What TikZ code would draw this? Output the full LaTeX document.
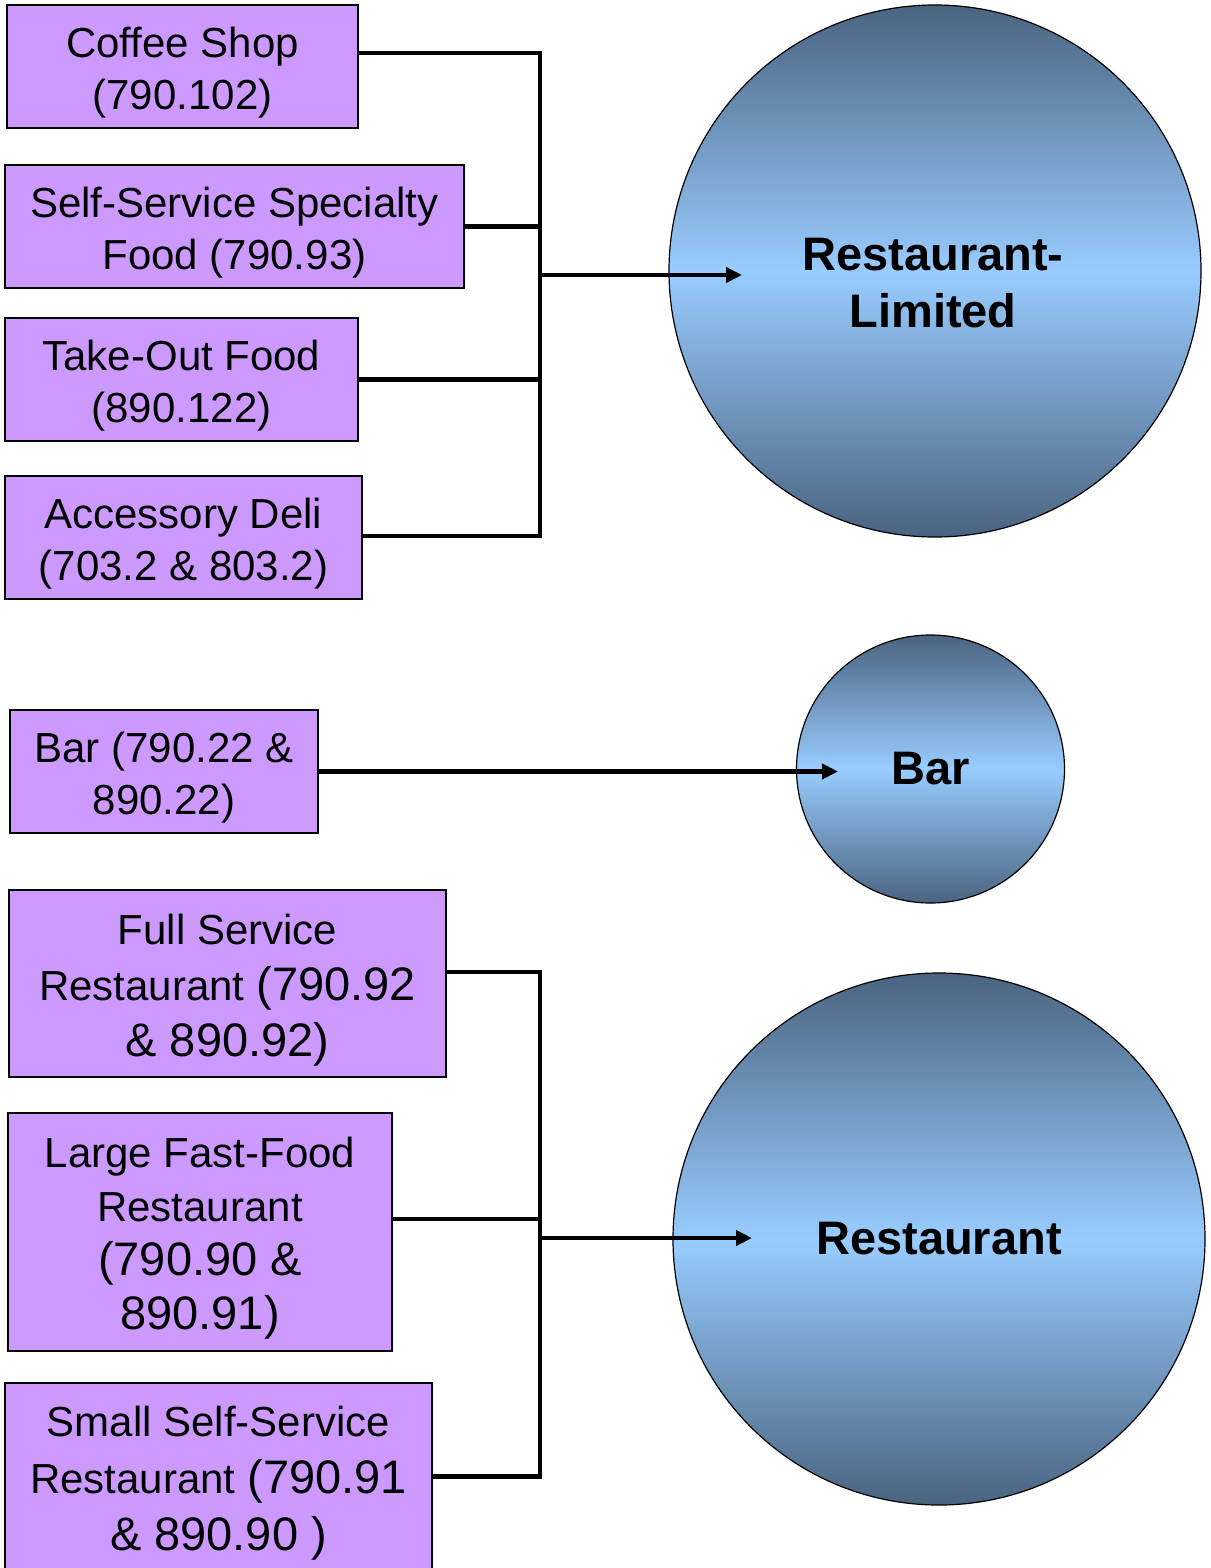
\documentclass[tikz,border=0pt]{standalone}
\usepackage{fontspec}
\setmainfont{Liberation Sans}
\usetikzlibrary{arrows.meta}
\definecolor{boxfill}{HTML}{CC99FF}
\definecolor{cdark}{HTML}{4A6480}
\definecolor{clight}{HTML}{99CCFF}
\newcommand{\numtxt}[1]{{\fontsize{47}{55}\selectfont #1}}
\newcommand{\topstrut}{\rule{0pt}{43pt}}
\begin{document}
\begin{tikzpicture}[x=1pt,y=-1pt,
  catbox/.style={draw=black,line width=1.5pt,fill=boxfill,rectangle,inner sep=0pt,
    align=center,font=\fontsize{42}{52}\selectfont},
  zone/.style={circle,draw=black,line width=1.2pt,top color=cdark,bottom color=cdark,
    middle color=clight,inner sep=0pt,font=\bfseries\fontsize{47}{57}\selectfont},
  zonetext/.style={inner sep=0pt,align=center,font=\bfseries\fontsize{47}{57}\selectfont},
  link/.style={line width=4.5pt,line join=miter},
  flow/.style={line width=4.5pt,-{Triangle[length=16pt,width=15pt]}}]

\useasboundingbox (0,0) rectangle (1210,1568);

% ---------- Restaurant-Limited group ----------
\node[catbox,minimum width=351pt,minimum height=123pt] (coffee) at (182.5,66.5)
  {\topstrut Coffee Shop\\(790.102)};
\node[catbox,minimum width=459pt,minimum height=123pt] (selfsvc) at (234.5,226.5)
  {\topstrut Self-Service Specialty\\Food (790.93)};
\node[catbox,minimum width=353pt,minimum height=123pt] (takeout) at (181.5,379.5)
  {\topstrut Take-Out Food\\(890.122)};
\node[catbox,minimum width=357pt,minimum height=123pt] (deli) at (183.5,537.5)
  {\topstrut Accessory Deli\\(703.2 \& 803.2)};

\node[zone,minimum size=532pt] (rlim) at (935,271) {};
\node[zonetext] (rlimtext) at (933,283) {Restaurant-\\Limited};

\coordinate (j1) at (540,275);
\coordinate (tip1) at (742,275);
\draw[link] ([yshift=13.5pt]coffee.east) -- ([yshift=13.5pt]coffee.east -| j1)
  -- ([yshift=1.5pt]deli.east -| j1) -- ([yshift=1.5pt]deli.east);
\draw[link] (selfsvc.east) -- (selfsvc.east -| j1);
\draw[link] (takeout.east) -- (takeout.east -| j1);
\draw[flow] (j1) -- (tip1);

% ---------- Bar ----------
\node[catbox,minimum width=308pt,minimum height=123pt] (barbox) at (164,771.5)
  {\topstrut Bar (790.22 \&\\890.22)};
\node[zone,minimum size=268pt] (bar) at (930.5,769) {Bar};
\coordinate (tip2) at (838,771.5);
\draw[flow] (barbox.east) -- (tip2);

% ---------- Restaurant group ----------
\node[catbox,font=\fontsize{42}{56}\selectfont,minimum width=437pt,minimum height=187pt] (full) at (227.5,983.5)
  {\topstrut Full Service\\Restaurant \numtxt{(790.92}\\\numtxt{\& 890.92)}};
\node[catbox,font=\fontsize{42}{54}\selectfont,minimum width=384pt,minimum height=238pt] (large) at (200,1232)
  {\topstrut Large Fast-Food\\Restaurant\\\numtxt{(790.90 \&}\\\numtxt{890.91)}};
\node[catbox,font=\fontsize{42}{57}\selectfont,minimum width=427pt,minimum height=187pt] (small) at (218.5,1476.5)
  {\topstrut Small Self-Service\\Restaurant \numtxt{(790.91}\\\numtxt{\& 890.90 )}};

\node[zone,minimum size=532pt] (rest) at (939,1239) {Restaurant};

\coordinate (j2) at (540,1238);
\coordinate (tip3) at (752,1238);
\draw[link] ([yshift=11.5pt]full.east) -- ([yshift=11.5pt]full.east -| j2)
  -- (small.east -| j2) -- (small.east);
\draw[link] ([yshift=13pt]large.east) -- ([yshift=13pt]large.east -| j2);
\draw[flow] (j2) -- (tip3);
\end{tikzpicture}
\end{document}
